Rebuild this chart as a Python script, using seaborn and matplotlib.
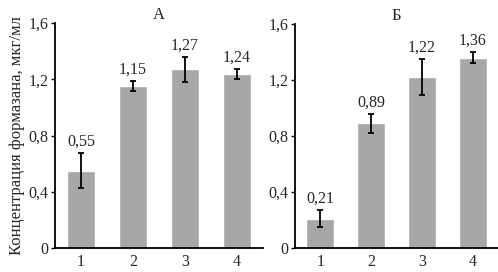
import matplotlib
matplotlib.use("Agg")
import matplotlib.pyplot as plt
import seaborn as sns
import pandas as pd

categories = ["1", "2", "3", "4"]
values_a = [0.55, 1.15, 1.27, 1.24]
errors_a = [0.125, 0.035, 0.09, 0.035]
labels_a = ["0,55", "1,15", "1,27", "1,24"]
values_b = [0.21, 0.89, 1.22, 1.36]
errors_b = [0.06, 0.065, 0.13, 0.04]
labels_b = ["0,21", "0,89", "1,22", "1,36"]
yticks = [0, 0.4, 0.8, 1.2, 1.6]
yticklabels = ["0", "0,4", "0,8", "1,2", "1,6"]
titles = ["А", "Б"]
ylabel = "Концентрация формазана, мкг/мл"

sns.set_theme(style="white")
plt.rcParams["font.family"] = ["Liberation Serif", "DejaVu Serif"]

fig = plt.figure(figsize=(4.98, 2.72), dpi=100)
ax1 = fig.add_axes([55/498, 1-248/272, 208/498, 225/272])
ax2 = fig.add_axes([295/498, 1-248/272, 203/498, 224/272])

fs = 11.5
bar_color = "#a7a7a7"
for ax, vals, errs, labs, title in [(ax1, values_a, errors_a, labels_a, titles[0]),
                                    (ax2, values_b, errors_b, labels_b, titles[1])]:
    df = pd.DataFrame({"cat": categories, "val": vals})
    sns.barplot(data=df, x="cat", y="val", ax=ax, color=bar_color, saturation=1,
                width=0.55, errorbar=None)
    ax.errorbar(range(len(vals)), vals, yerr=errs, fmt="none", ecolor="black",
                elinewidth=1.3, capsize=2.5, capthick=1.3)
    for i, (v, e, l) in enumerate(zip(vals, errs, labs)):
        ax.annotate(l, (i, v + e), xytext=(0, 2.5), textcoords="offset points",
                    ha="center", va="bottom", fontsize=fs)
    ax.set_ylim(0, 1.6)
    ax.set_xlim(-0.5, 3.5)
    ax.set_yticks(yticks)
    ax.set_yticklabels(yticklabels, fontsize=fs)
    ax.tick_params(axis="x", length=0, labelsize=fs, pad=4)
    ax.tick_params(axis="y", length=3, width=1, direction="out", left=True, pad=1.5, color="black")
    for s in ["top", "right"]:
        ax.spines[s].set_visible(False)
    for s in ["left", "bottom"]:
        ax.spines[s].set_color("black")
        ax.spines[s].set_linewidth(1.3)
    ax.set_xlabel("")
    ax.set_ylabel("")
    ax.set_title(title, fontsize=12, pad=3)

ax1.set_ylabel(ylabel, fontsize=12, labelpad=3)

fig.savefig("out.png", dpi=100)
